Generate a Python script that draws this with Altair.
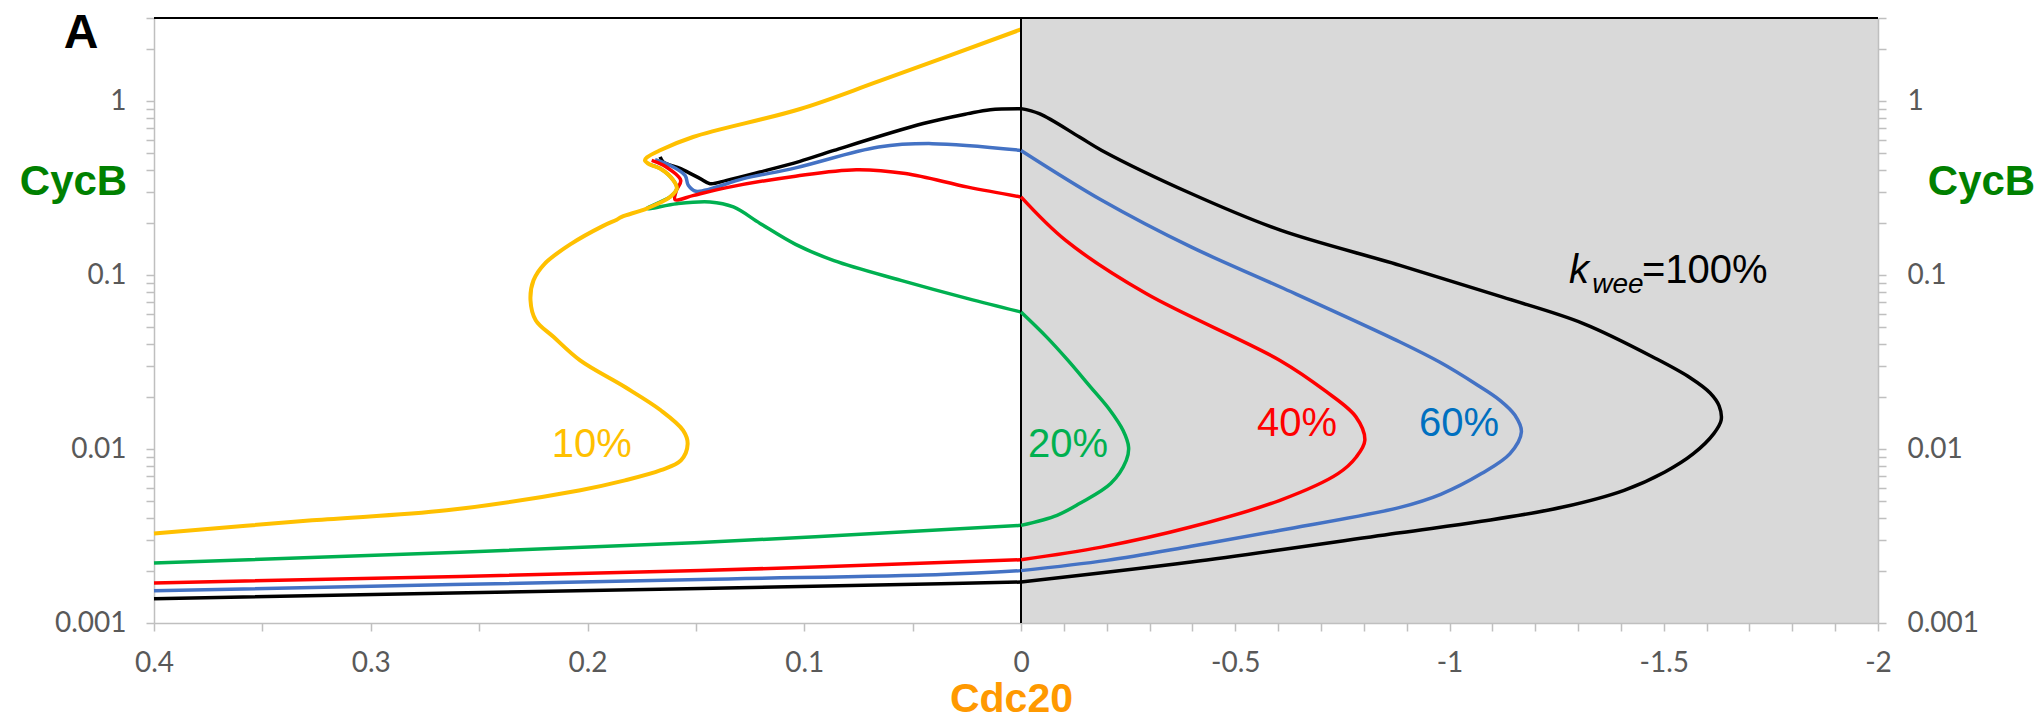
import altair as alt
import pandas as pd

# ---------------------------------------------------------------------------
# One-parameter bifurcation curves of CycB versus Cdc20 for several kwee levels.
# Each curve is split into branches: lower-left (Cdc20 > 0), right (Cdc20 < 0)
# and upper-left (Cdc20 > 0). The 10% curve stays entirely on the left.
# ---------------------------------------------------------------------------

# kwee = 100% (black)
K100_LOWER_X = [0.4, 0.148, 0.037, 0.0]
K100_LOWER_Y = [0.00138, 0.00158, 0.00168, 0.00172]
K100_RIGHT_X = [0.0, -0.3967, -0.8845, -1.0747, -1.2649, -1.4075, -1.5027, -1.5692, -1.6168,
                -1.6339, -1.6292, -1.6082, -1.5616, -1.4838, -1.3125, -1.1223, -0.8845,
                -0.6054, -0.3967, -0.1886, -0.1365, -0.0427, 0.0]
K100_RIGHT_Y = [0.00172, 0.00224, 0.0033, 0.00384, 0.00464, 0.00579, 0.00738, 0.0094, 0.01226,
                0.01462, 0.0177, 0.0210, 0.0257, 0.0329, 0.0526, 0.0748, 0.1137,
                0.181, 0.294, 0.52, 0.621, 0.846, 0.904]
K100_UPPER_X = [0.0, 0.0142, 0.0245, 0.0451, 0.0863, 0.102, 0.1204, 0.1358, 0.1435, 0.148,
                0.157, 0.165, 0.1665]
K100_UPPER_Y = [0.904, 0.892, 0.846, 0.742, 0.52, 0.45, 0.391, 0.35, 0.335, 0.358,
                0.409, 0.446, 0.477]

# kwee = 60% (blue)
K60_LOWER_X = [0.4, 0.148, 0.037, 0.0]
K60_LOWER_Y = [0.00153, 0.00178, 0.0019, 0.002]
K60_RIGHT_X = [0.0, -0.2, -0.3967, -0.6054, -0.8845, -0.9795, -1.0747, -1.1412, -1.1678,
               -1.1528, -1.1178, -1.0595, -0.9778, -0.8845, -0.6054, -0.3967, -0.1886, 0.0]
K60_RIGHT_Y = [0.002, 0.00229, 0.00276, 0.00341, 0.00462, 0.00549, 0.00722, 0.0094, 0.01253,
               0.01562, 0.01905, 0.0238, 0.0315, 0.0412, 0.0853, 0.145, 0.269, 0.52]
K60_UPPER_X = [0.0, 0.041, 0.0657, 0.104, 0.128, 0.15, 0.1535, 0.155, 0.162, 0.1688]
K60_UPPER_Y = [0.52, 0.569, 0.544, 0.413, 0.358, 0.303, 0.328, 0.374, 0.427, 0.46]

# kwee = 40% (red)
K40_LOWER_X = [0.4, 0.148, 0.0]
K40_LOWER_Y = [0.0017, 0.002, 0.00231]
K40_RIGHT_X = [0.0, -0.1876, -0.3958, -0.6044, -0.7398, -0.7825, -0.8024, -0.7816, -0.7086,
               -0.6044, -0.2919, -0.1043, 0.0]
K40_RIGHT_Y = [0.00231, 0.00273, 0.00356, 0.00507, 0.00722, 0.009, 0.0112, 0.0153, 0.0217,
               0.0323, 0.0782, 0.158, 0.281]
K40_UPPER_X = [0.0, 0.0245, 0.0533, 0.076, 0.104, 0.1358, 0.151, 0.1596, 0.159, 0.157, 0.165, 0.1704]
K40_UPPER_Y = [0.281, 0.32, 0.383, 0.403, 0.37, 0.318, 0.287, 0.271, 0.306, 0.35, 0.427, 0.456]

# kwee = 20% (green)
K20_LOWER_X = [0.4, 0.148, 0.0]
K20_LOWER_Y = [0.00221, 0.0029, 0.00364]
K20_RIGHT_X = [0.0, -0.0842, -0.1365, -0.2093, -0.2457, -0.2511, -0.238, -0.2077, -0.161,
               -0.1097, -0.0583, 0.0]
K20_RIGHT_Y = [0.00364, 0.00416, 0.00486, 0.00633, 0.00861, 0.01023, 0.0128, 0.0167, 0.0229,
               0.0323, 0.0444, 0.0613]
K20_UPPER_X = [0.0, 0.0245, 0.0554, 0.0863, 0.104, 0.1204, 0.1327, 0.1435, 0.1588, 0.1727,
               0.1619, 0.1588, 0.1604, 0.1665, 0.171]
K20_UPPER_Y = [0.0613, 0.0732, 0.0932, 0.121, 0.15, 0.198, 0.246, 0.263, 0.257, 0.241,
               0.281, 0.314, 0.35, 0.409, 0.43]

# kwee = 10% (yellow), a single S-shaped branch on the left
K10_X = [0.0, 0.0655, 0.1019, 0.1513, 0.1665, 0.1725, 0.1735, 0.171, 0.1665, 0.1604,
         0.1588, 0.1619, 0.1727, 0.1842, 0.1865, 0.193, 0.2074, 0.2198, 0.2249, 0.2263,
         0.2239, 0.2156, 0.2034, 0.1827, 0.1662, 0.1559, 0.1538, 0.1569, 0.1662, 0.1827,
         0.2033, 0.265, 0.327, 0.4]
K10_Y = [2.58, 1.3, 0.9, 0.621, 0.521, 0.475, 0.456, 0.43, 0.409, 0.35,
         0.314, 0.281, 0.241, 0.216, 0.208, 0.191, 0.1515, 0.116, 0.0932, 0.0716,
         0.055, 0.044, 0.0323, 0.0227, 0.0167, 0.0128, 0.0107, 0.0086, 0.00755, 0.0066,
         0.0058, 0.00444, 0.00389, 0.00327]

# Curve labels
LEFT_LABEL_TEXT = ["10%"]
LEFT_LABEL_X = [0.198]
LEFT_LABEL_Y = [0.0105]
LEFT_LABEL_COLOR = ["#ffc000"]

RIGHT_LABEL_TEXT = ["20%", "40%", "60%"]
RIGHT_LABEL_X = [-0.11, -0.644, -1.022]
RIGHT_LABEL_Y = [0.0106, 0.0139, 0.0139]
RIGHT_LABEL_COLOR = ["#00b050", "#ff0000", "#0070c0"]

# "k_wee=100%" annotation, drawn in three pieces
KWEE_TEXT = ["k", "wee", "=100%"]
KWEE_X = [-1.279, -1.333, -1.449]
KWEE_Y = [0.0896, 0.0785, 0.0896]
KWEE_SIZE = [40, 28, 40]
KWEE_STYLE = ["italic", "italic", "normal"]

# Axis ticks
Y_TICKS = [m * d for d in (0.001, 0.01, 0.1) for m in range(1, 10)] + [1, 2, 3]
X_TICKS_LEFT = [round(0.05 * k, 2) for k in range(9)]
X_TICKS_RIGHT = [round(-0.1 * k, 1) for k in range(1, 21)]

# ---------------------------------------------------------------------------
W_LEFT, W_RIGHT, H = 867, 857, 605
AXIS_GREY = "#bfbfbf"
LABEL_GREY = "#595959"
TICK_FONT = "Lato"
TEXT_FONT = "Liberation Sans"
LINE_W = 3.5

y_scale = alt.Scale(type="log", domain=[0.001, 3], nice=False)
x_scale_left = alt.Scale(domain=[0, 0.4], reverse=True, nice=False, zero=False)
x_scale_right = alt.Scale(domain=[-2, 0], reverse=True, nice=False, zero=False)

y_label_expr = ("datum.value == 1 ? '1' : datum.value == 0.1 ? '0.1' : "
                "datum.value == 0.01 ? '0.01' : datum.value == 0.001 ? '0.001' : ''")

common_axis = dict(
    grid=False, domainColor=AXIS_GREY, domainWidth=1.5, tickColor=AXIS_GREY,
    tickWidth=1.5, tickSize=8, labelFont=TICK_FONT, labelFontSize=28,
    labelColor=LABEL_GREY, labelOverlap=False, labelFlush=False, labelBound=False,
)

y_axis_left = alt.Axis(
    orient="left", values=Y_TICKS, labelExpr=y_label_expr, labelPadding=20,
    title="CycB", titleAngle=0, titleX=-81, titleY=163, titleAlign="center",
    titleBaseline="middle", titleFont=TEXT_FONT, titleFontSize=42,
    titleFontWeight="bold", titleColor="#008000", **common_axis,
)
y_axis_right = alt.Axis(
    orient="right", values=Y_TICKS, labelExpr=y_label_expr, labelPadding=21,
    title="CycB", titleAngle=0, titleX=103, titleY=163, titleAlign="center",
    titleBaseline="middle", titleFont=TEXT_FONT, titleFontSize=42,
    titleFontWeight="bold", titleColor="#008000", **common_axis,
)
x_axis_left = alt.Axis(
    orient="bottom", values=X_TICKS_LEFT, labelPadding=18,
    labelExpr=("abs(datum.value * 10 - round(datum.value * 10)) < 1e-6 ? "
               "format(datum.value, '.1~f') : ''"),
    title="Cdc20", titleX=857, titleY=76, titleAlign="center", titleBaseline="middle",
    titleFont=TEXT_FONT, titleFontSize=41, titleFontWeight="bold", titleColor="#ff9900",
    **common_axis,
)
x_axis_right = alt.Axis(
    orient="bottom", values=X_TICKS_RIGHT, labelPadding=18,
    labelExpr=("abs(datum.value * 2 - round(datum.value * 2)) < 1e-6 ? "
               "'-' + format(-datum.value, '~g') : ''"),
    title=None, **common_axis,
)


def enc_left(xf="x", yf="y"):
    return dict(x=alt.X(f"{xf}:Q", scale=x_scale_left, axis=x_axis_left),
                y=alt.Y(f"{yf}:Q", scale=y_scale, axis=y_axis_left))


def enc_right(xf="x", yf="y"):
    return dict(x=alt.X(f"{xf}:Q", scale=x_scale_right, axis=x_axis_right),
                y=alt.Y(f"{yf}:Q", scale=y_scale, axis=y_axis_right))


def branches(*pairs):
    frames = []
    for seg, (xs, ys) in enumerate(pairs):
        frames.append(pd.DataFrame({"x": xs, "y": ys, "seg": seg, "i": range(len(xs))}))
    return pd.concat(frames, ignore_index=True)


def curve(df, color, enc, width=LINE_W):
    return alt.Chart(df).mark_line(
        color=color, strokeWidth=width, interpolate="catmull-rom", clip=False,
        strokeJoin="round", strokeCap="butt",
    ).encode(detail="seg:N", order="i:Q", **enc)


COLORS = {"k100": "#000000", "k60": "#4472c4", "k40": "#ff0000", "k20": "#00b050", "k10": "#ffc000"}

# ---------------- left panel (Cdc20 from 0.4 down to 0) ----------------
left_layers = [
    curve(branches((K100_LOWER_X, K100_LOWER_Y), (K100_UPPER_X, K100_UPPER_Y)), COLORS["k100"], enc_left()),
    curve(branches((K60_LOWER_X, K60_LOWER_Y), (K60_UPPER_X, K60_UPPER_Y)), COLORS["k60"], enc_left()),
    curve(branches((K40_LOWER_X, K40_LOWER_Y), (K40_UPPER_X, K40_UPPER_Y)), COLORS["k40"], enc_left()),
    curve(branches((K20_LOWER_X, K20_LOWER_Y), (K20_UPPER_X, K20_UPPER_Y)), COLORS["k20"], enc_left()),
    curve(branches((K10_X, K10_Y)), COLORS["k10"], enc_left(), width=4),
]

left_labels = alt.Chart(pd.DataFrame({
    "x": LEFT_LABEL_X, "y": LEFT_LABEL_Y, "t": LEFT_LABEL_TEXT, "c": LEFT_LABEL_COLOR,
})).mark_text(font=TEXT_FONT, fontSize=40, align="center", baseline="middle").encode(
    text="t:N", color=alt.Color("c:N", scale=None), **enc_left()
)

top_left = alt.Chart(pd.DataFrame({"x": [0.4], "x2": [0.0], "y": [3.0]})).mark_rule(
    color="black", strokeWidth=2
).encode(x2="x2:Q", **enc_left())

panel_tag = alt.Chart(pd.DataFrame({"t": ["A"]})).mark_text(
    font=TEXT_FONT, fontSize=48, fontWeight="bold", align="center", baseline="alphabetic",
    color="black",
).encode(text="t:N", x=alt.value(-73), y=alt.value(30))

left = alt.layer(*left_layers, left_labels, top_left, panel_tag).properties(
    width=W_LEFT, height=H, view=alt.ViewBackground(fill="white", stroke=None)
)

# ---------------- right panel (Cdc20 from 0 down to -2) ----------------
midline = alt.Chart(pd.DataFrame({"x": [0.0], "y": [0.001], "y2": [3.0]})).mark_rule(
    color="black", strokeWidth=2
).encode(y2="y2:Q", **enc_right())

right_layers = [
    curve(branches((K100_RIGHT_X, K100_RIGHT_Y)), COLORS["k100"], enc_right()),
    curve(branches((K60_RIGHT_X, K60_RIGHT_Y)), COLORS["k60"], enc_right()),
    curve(branches((K40_RIGHT_X, K40_RIGHT_Y)), COLORS["k40"], enc_right()),
    curve(branches((K20_RIGHT_X, K20_RIGHT_Y)), COLORS["k20"], enc_right()),
]

right_labels = alt.Chart(pd.DataFrame({
    "x": RIGHT_LABEL_X, "y": RIGHT_LABEL_Y, "t": RIGHT_LABEL_TEXT, "c": RIGHT_LABEL_COLOR,
})).mark_text(font=TEXT_FONT, fontSize=40, align="center", baseline="middle").encode(
    text="t:N", color=alt.Color("c:N", scale=None), **enc_right()
)

kwee_df = pd.DataFrame({"x": KWEE_X, "y": KWEE_Y, "t": KWEE_TEXT, "s": KWEE_SIZE, "st": KWEE_STYLE})
kwee_italic = alt.Chart(kwee_df[kwee_df["st"] == "italic"]).mark_text(
    font=TEXT_FONT, fontStyle="italic", align="left", baseline="alphabetic", color="black"
).encode(text="t:N", size=alt.Size("s:Q", scale=None, legend=None), **enc_right())
kwee_plain = alt.Chart(kwee_df[kwee_df["st"] == "normal"]).mark_text(
    font=TEXT_FONT, align="left", baseline="alphabetic", color="black"
).encode(text="t:N", size=alt.Size("s:Q", scale=None, legend=None), **enc_right())

top_right = alt.Chart(pd.DataFrame({"x": [0.0], "x2": [-2.0], "y": [3.0]})).mark_rule(
    color="black", strokeWidth=2
).encode(x2="x2:Q", **enc_right())

right = alt.layer(midline, *right_layers, right_labels, kwee_italic, kwee_plain, top_right).properties(
    width=W_RIGHT, height=H, view=alt.ViewBackground(fill="#d9d9d9", stroke=None)
)

chart = alt.hconcat(left, right, spacing=0, bounds="flush").resolve_scale(
    x="independent", y="independent"
).configure_view(stroke=None).properties(
    padding={"left": 19, "top": 4, "right": 0, "bottom": 0}, background="white"
)

chart.save("out.html", embed_options={"renderer": "svg", "actions": False})
